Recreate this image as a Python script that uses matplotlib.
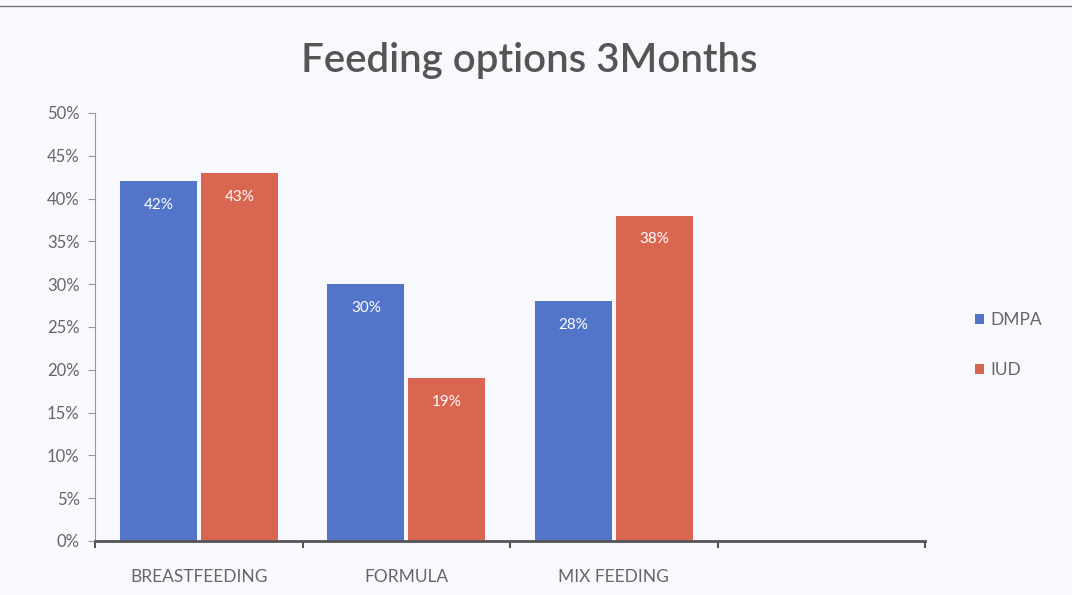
import matplotlib.pyplot as plt
from matplotlib.lines import Line2D
import numpy as np

# Feeding options at 3 months, share of women per contraceptive group
categories = ['BREASTFEEDING', 'FORMULA', 'MIX FEEDING']
dmpa = [42, 30, 28]
iud = [43, 19, 38]
yticks = [0, 5, 10, 15, 20, 25, 30, 35, 40, 45, 50]

blue = '#5274c9'
red = '#d96650'
grey_text = '#666666'

plt.rcParams['font.family'] = ['Lato', 'DejaVu Sans']

fig = plt.figure(figsize=(10.72, 5.95), dpi=100, facecolor='#f8f9fc')
ax = fig.add_axes([0.0886, 0.0908, 0.7745, 0.7193])
ax.set_facecolor('none')

x = np.arange(len(categories)) + 0.5
w = 0.37
off = 0.195
b1 = ax.bar(x - off, dmpa, w, color=blue, label='DMPA')
b2 = ax.bar(x + off, iud, w, color=red, label='IUD')

# value labels inside the top of each bar
for bars, vals in ((b1, dmpa), (b2, iud)):
    for bar, v in zip(bars, vals):
        ax.annotate(f'{v}%', (bar.get_x() + bar.get_width() / 2, v),
                    xytext=(0, -17), textcoords='offset points',
                    ha='center', va='center', color='white', fontsize=11)

# four category slots, last one left empty
ax.set_xlim(0, 4)
ax.set_ylim(0, 50)
ax.set_xticks(x)
ax.set_xticklabels(categories, color=grey_text, fontsize=12.5)
ax.set_xticks(np.arange(0, 5), minor=True)
ax.tick_params(axis='x', which='major', length=0, pad=20)
ax.tick_params(axis='x', which='minor', length=5, width=1.5, color='#555555',
               direction='out')

ax.set_yticks(yticks)
ax.set_yticklabels([f'{t}%' for t in yticks], color=grey_text, fontsize=12)
ax.tick_params(axis='y', length=5, color='#999999', pad=6)

for s in ('top', 'right'):
    ax.spines[s].set_visible(False)
ax.spines['left'].set_color('#999999')
ax.spines['bottom'].set_color('#555555')
ax.spines['bottom'].set_linewidth(2)

fig.text(0.494, 0.898, 'Feeding options 3Months', ha='center', va='center',
         fontsize=29, color='#555555', fontweight='semibold')

leg = fig.legend(handles=[b1, b2], loc='center left',
                 bbox_to_anchor=(0.895, 0.42), frameon=False,
                 handlelength=0.5, handleheight=0.5, handletextpad=0.4,
                 labelspacing=2.0, fontsize=12.5)
for t in leg.get_texts():
    t.set_color(grey_text)

# thin edge line along the top
fig.add_artist(Line2D([0.0, 1.0], [0.99, 0.99], color='#777777', lw=1,
                      transform=fig.transFigure))

fig.savefig('out.png', dpi=100, facecolor=fig.get_facecolor())
